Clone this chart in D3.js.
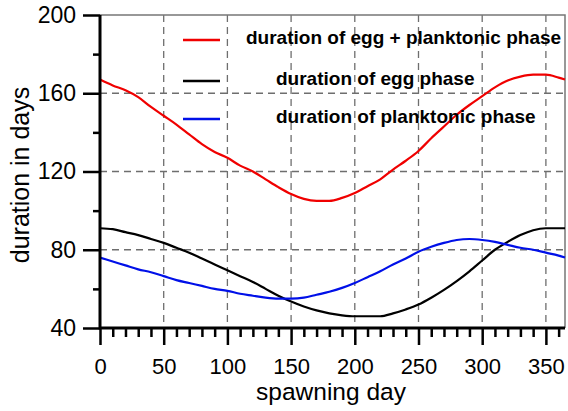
<!DOCTYPE html>
<html>
<head>
<meta charset="utf-8">
<script src="https://cdn.jsdelivr.net/npm/d3@7/dist/d3.min.js"></script>
<style>
body{margin:0;background:#fff;}
svg{display:block;}
text{font-family:Arial,"Liberation Sans",sans-serif;fill:#000;}
</style>
</head>
<body>
<svg id="chart" width="568" height="411"></svg>
<script>
// ---- data ----
const days = [0,10,20,30,40,50,60,70,80,90,100,110,120,130,140,150,160,170,180,190,200,210,220,230,240,250,260,270,280,290,300,310,320,330,340,350,360,365];
const eggPlanktonic = [167,164,161.5,158,153,148.5,144,139,134,130,127,123,120,116,112,108.5,106,105,105,106.5,109,112.5,116,121,125.5,130.5,137,143,149,154,158.5,163,166.5,168.5,169.5,169.5,168,167];
const eggPhase = [91,90.5,89,87.5,85.5,83.5,81,78.5,75.5,72.5,69.5,66.5,63.5,60,56.5,53.5,51,49,47.5,46.5,46,46,46,47.5,49.5,52,55.5,59.5,64,69,74.5,80,84,87.5,90,91,91,91];
const planktonicPhase = [76,74,72,70,68.5,66.5,64.5,63,61.5,60,59,57.5,56.5,55.5,55,55,55.5,57,58.5,60.5,63,66,69,72.5,75.5,79,81.5,83.5,85,85.5,85,84,82.5,81,80,78.5,77,76];
const seriesNames = ["duration of egg + planktonic phase","duration of egg phase","duration of planktonic phase"];
const seriesColors = ["#f00000","#000000","#0010e8"];
const xTicks = [0,50,100,150,200,250,300,350];
const xMinorTicks = [10,20,30,40,60,70,80,90,110,120,130,140,160,170,180,190,210,220,230,240,260,270,280,290,310,320,330,340,360];
const yTicks = [40,80,120,160,200];
const yMinorTicks = [60,100,140,180];
const xTitle = "spawning day";
const yTitle = "duration in days";

// ---- chart ----
const svg = d3.select("#chart");
const L = 100, R = 565, T = 15, B = 328;
const x = d3.scaleLinear().domain([0,365]).range([L,R]);
const y = d3.scaleLinear().domain([40,200]).range([B,T]);

// grid
const grid = svg.append("g").attr("stroke","#6e6e6e").attr("stroke-width",1.3).attr("stroke-dasharray","7,5");
grid.selectAll("line.vx").data(xTicks.filter(d=>d>0)).join("line")
  .attr("x1",d=>x(d)).attr("x2",d=>x(d)).attr("y1",T).attr("y2",B);
grid.selectAll("line.hy").data([80,120,160]).join("line")
  .attr("y1",d=>y(d)).attr("y2",d=>y(d)).attr("x1",L).attr("x2",R);

// frame top/right
svg.append("path").attr("d",`M${L},${T}H${R}V${B}`).attr("fill","none").attr("stroke","#777").attr("stroke-width",1.5);

// lines
const allSeries = [eggPlanktonic, eggPhase, planktonicPhase];
const line = d3.line().x((d,i)=>x(days[i])).y(d=>y(d)).curve(d3.curveMonotoneX);
allSeries.forEach((s,i)=>{
  svg.append("path").datum(s).attr("d",line).attr("fill","none")
    .attr("stroke",seriesColors[i]).attr("stroke-width",2.2);
});

// axes
function styleAxis(g){
  g.select(".domain").remove();
  g.selectAll(".tick line").attr("stroke","#000").attr("stroke-width",2.5);
}
svg.append("g").attr("transform",`translate(0,${B})`)
  .call(d3.axisBottom(x).tickValues(xMinorTicks).tickSize(9).tickFormat(""))
  .call(styleAxis);
svg.append("g").attr("transform",`translate(0,${B})`)
  .call(d3.axisBottom(x).tickValues(xTicks).tickSize(17).tickPadding(13).tickFormat(d3.format("d")))
  .call(styleAxis)
  .selectAll("text").attr("font-size",22).attr("font-family","Arial, 'Liberation Sans', sans-serif");
svg.append("g").attr("transform",`translate(${L},0)`)
  .call(d3.axisLeft(y).tickValues(yMinorTicks).tickSize(7).tickFormat(""))
  .call(styleAxis);
svg.append("g").attr("transform",`translate(${L},0)`)
  .call(d3.axisLeft(y).tickValues(yTicks).tickSize(17).tickPadding(7).tickFormat(d3.format("d")))
  .call(styleAxis)
  .selectAll("text").attr("font-size",23).attr("font-family","Arial, 'Liberation Sans', sans-serif");

// axis lines
svg.append("path").attr("d",`M${L},${T}V${B}H${R}`).attr("fill","none").attr("stroke","#000").attr("stroke-width",3);

// titles
svg.append("text").attr("x",331).attr("y",400).attr("text-anchor","middle").attr("font-size",24.5).text(xTitle);
svg.append("text").attr("transform","translate(29,175) rotate(-90)").attr("text-anchor","middle").attr("font-size",25).text(yTitle);

// legend
const legY = [40,81,119];
const legTextX = [246,276,276];
seriesNames.forEach((n,i)=>{
  svg.append("line").attr("x1",183).attr("x2",220).attr("y1",legY[i]).attr("y2",legY[i])
    .attr("stroke",seriesColors[i]).attr("stroke-width",2.5);
  svg.append("text").attr("x",legTextX[i]).attr("y",legY[i]+4)
    .attr("font-size",19).attr("font-weight","bold").text(n);
});
</script>
</body>
</html>
